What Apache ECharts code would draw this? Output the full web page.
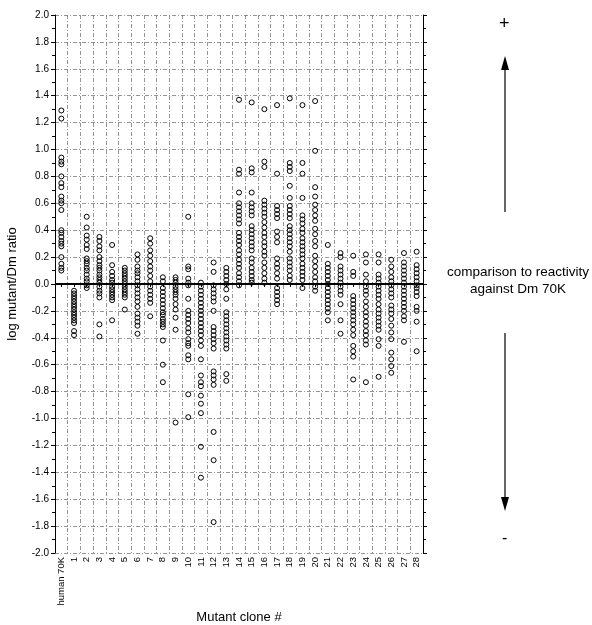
<!DOCTYPE html>
<html>
<head>
<meta charset="utf-8">
<script src="https://cdn.jsdelivr.net/npm/echarts@6/dist/echarts.min.js"></script>
<style>
html,body{margin:0;padding:0;background:#fff;}
#chart{width:592px;height:625px;}
</style>
</head>
<body>
<div id="chart"></div>
<script>
// ---- data ----
const categories = ['human 70K','1','2','3','4','5','6','7','8','9','10','11','12','13','14','15','16','17','18','19','20','21','22','23','24','25','26','27','28'];
const yTicks = [-2.0,-1.8,-1.6,-1.4,-1.2,-1.0,-0.8,-0.6,-0.4,-0.2,0.0,0.2,0.4,0.6,0.8,1.0,1.2,1.4,1.6,1.8,2.0];

const human70K = [1.29,1.23,0.94,0.91,0.89,0.80,0.75,0.72,0.65,0.62,0.60,0.55,0.40,0.38,0.35,0.32,0.30,0.28,0.20,0.15,0.12,0.10];
const clone1 = [-0.05,-0.07,-0.09,-0.11,-0.13,-0.15,-0.17,-0.19,-0.21,-0.23,-0.25,-0.27,-0.29,-0.35,-0.38];
const clone2 = [0.50,0.42,0.36,0.33,0.29,0.26,0.19,0.17,0.15,0.12,0.10,0.07,0.04,0.02,-0.01,-0.03];
const clone3 = [0.35,0.32,0.28,0.25,0.20,0.17,0.14,0.12,0.10,0.07,0.05,0.03,0.01,-0.02,-0.05,-0.07,-0.10,-0.30,-0.39];
const clone4 = [0.29,0.14,0.09,0.06,0.03,0.01,-0.02,-0.04,-0.06,-0.08,-0.10,-0.12,-0.27];
const clone5 = [0.12,0.10,0.08,0.06,0.04,0.02,0.00,-0.02,-0.04,-0.06,-0.08,-0.10,-0.19];
const clone6 = [0.22,0.18,0.13,0.10,0.08,0.05,0.02,-0.01,-0.04,-0.07,-0.10,-0.13,-0.17,-0.22,-0.25,-0.28,-0.31,-0.37];
const clone7 = [0.34,0.30,0.25,0.21,0.17,0.13,0.10,0.06,0.02,-0.02,-0.05,-0.08,-0.11,-0.14,-0.24];
const clone8 = [0.05,0.02,-0.03,-0.06,-0.09,-0.12,-0.15,-0.18,-0.21,-0.23,-0.26,-0.28,-0.30,-0.32,-0.42,-0.60,-0.73];
const clone9 = [0.05,0.03,0.01,-0.02,-0.04,-0.06,-0.08,-0.11,-0.15,-0.19,-0.25,-0.34,-1.03];
const clone10 = [0.50,0.13,0.11,0.04,0.01,-0.01,-0.11,-0.20,-0.23,-0.26,-0.29,-0.33,-0.36,-0.41,-0.44,-0.46,-0.53,-0.56,-0.82,-0.99];
const clone11 = [0.01,-0.02,-0.05,-0.08,-0.11,-0.14,-0.17,-0.20,-0.23,-0.26,-0.29,-0.32,-0.35,-0.38,-0.42,-0.46,-0.56,-0.68,-0.73,-0.76,-0.83,-0.89,-0.96,-1.21,-1.44];
const clone12 = [0.16,0.09,-0.01,-0.04,-0.07,-0.10,-0.13,-0.20,-0.32,-0.35,-0.38,-0.41,-0.44,-0.48,-0.65,-0.68,-0.71,-0.75,-1.10,-1.31,-1.77];
const clone13 = [0.12,0.09,0.06,0.03,0.00,-0.04,-0.11,-0.21,-0.24,-0.27,-0.30,-0.33,-0.36,-0.39,-0.42,-0.45,-0.48,-0.67,-0.72];
const clone14 = [1.37,0.85,0.82,0.68,0.60,0.57,0.54,0.51,0.48,0.45,0.38,0.35,0.32,0.29,0.25,0.22,0.18,0.15,0.12,0.08,0.05,0.02,-0.01];
const clone15 = [1.35,0.86,0.83,0.68,0.60,0.57,0.54,0.51,0.43,0.40,0.37,0.34,0.31,0.28,0.25,0.19,0.16,0.12,0.09,0.06,0.03,0.01];
const clone16 = [1.30,0.91,0.87,0.62,0.59,0.56,0.53,0.50,0.46,0.42,0.38,0.35,0.31,0.28,0.24,0.21,0.16,0.12,0.08,0.04,0.01];
const clone17 = [1.33,0.82,0.58,0.55,0.52,0.49,0.39,0.35,0.31,0.19,0.15,0.12,0.08,0.04,-0.03,-0.06,-0.09,-0.12,-0.15];
const clone18 = [1.38,0.90,0.87,0.84,0.73,0.64,0.58,0.55,0.52,0.49,0.43,0.40,0.37,0.34,0.31,0.28,0.24,0.19,0.16,0.13,0.10,0.06,0.03];
const clone19 = [1.33,0.90,0.82,0.64,0.51,0.48,0.45,0.41,0.38,0.34,0.31,0.28,0.25,0.22,0.19,0.15,0.12,0.09,0.06,0.03,-0.03];
const clone20 = [1.36,0.99,0.72,0.65,0.59,0.55,0.51,0.47,0.41,0.37,0.32,0.28,0.21,0.17,0.13,0.09,0.05,0.02,-0.02,-0.05];
const clone21 = [0.29,0.15,0.12,0.09,0.06,0.03,0.00,-0.03,-0.06,-0.09,-0.12,-0.15,-0.18,-0.21,-0.27];
const clone22 = [0.23,0.20,0.13,0.10,0.07,0.04,0.01,-0.02,-0.05,-0.08,-0.15,-0.27,-0.37];
const clone23 = [0.21,0.09,0.06,-0.09,-0.12,-0.15,-0.18,-0.21,-0.24,-0.27,-0.30,-0.34,-0.38,-0.46,-0.50,-0.54,-0.71];
const clone24 = [0.22,0.16,0.07,0.02,-0.02,-0.05,-0.08,-0.13,-0.17,-0.21,-0.24,-0.28,-0.31,-0.35,-0.38,-0.42,-0.45,-0.73];
const clone25 = [0.22,0.16,0.07,0.04,0.01,-0.02,-0.05,-0.08,-0.11,-0.15,-0.19,-0.22,-0.25,-0.28,-0.31,-0.34,-0.41,-0.46,-0.69];
const clone26 = [0.18,0.13,0.09,0.05,0.02,-0.01,-0.04,-0.07,-0.10,-0.16,-0.19,-0.22,-0.26,-0.31,-0.36,-0.41,-0.51,-0.56,-0.61,-0.66];
const clone27 = [0.23,0.16,0.13,0.10,0.07,0.04,0.01,-0.02,-0.05,-0.08,-0.11,-0.14,-0.17,-0.20,-0.24,-0.27,-0.43];
const clone28 = [0.24,0.14,0.11,0.08,0.05,0.02,-0.01,-0.03,-0.06,-0.09,-0.17,-0.20,-0.28,-0.50];

const groups = [human70K,clone1,clone2,clone3,clone4,clone5,clone6,clone7,clone8,clone9,clone10,
  clone11,clone12,clone13,clone14,clone15,clone16,clone17,clone18,clone19,clone20,
  clone21,clone22,clone23,clone24,clone25,clone26,clone27,clone28];

const points = [];
groups.forEach((vals, i) => vals.forEach(v => points.push([i, v])));

const FONT = '"Liberation Sans", Arial, Helvetica, sans-serif';
const gridDash = { color: '#7a7a7a', width: 0.8, type: [4, 2, 1, 2] };

const chart = echarts.init(document.getElementById('chart'), null, { renderer: 'canvas' });

const ARROW_X = 505;
chart.setOption({
  animation: false,
  backgroundColor: '#fff',
  grid: { left: 55, right: 169, top: 15, bottom: 72, containLabel: false, outerBoundsMode: 'none' },
  xAxis: [{
    type: 'category',
    data: categories,
    boundaryGap: true,
    position: 'bottom',
    name: 'Mutant clone #',
    nameLocation: 'middle',
    nameGap: 58,
    nameMoveOverlap: false,
    nameTextStyle: { fontFamily: FONT, fontSize: 13, color: '#000' },
    axisLine: { show: true, lineStyle: { color: '#000', width: 1 } },
    axisTick: { show: true, alignWithLabel: true, length: 3, lineStyle: { color: '#000' } },
    axisLabel: { rotate: 90, interval: 0, fontFamily: FONT, fontSize: 9.5, color: '#000', margin: 4 },
    splitLine: { show: true, interval: 0, lineStyle: gridDash }
  }, {
    type: 'category',
    data: categories,
    position: 'top',
    axisLine: { show: true, lineStyle: { color: '#000', width: 1 } },
    axisTick: { show: false },
    axisLabel: { show: false },
    splitLine: { show: false }
  }],
  yAxis: [{
    type: 'value',
    min: -2, max: 2, interval: 0.2,
    position: 'left',
    name: 'log mutant/Dm ratio',
    nameLocation: 'middle',
    nameGap: 36,
    nameMoveOverlap: false,
    nameRotate: 90,
    nameTextStyle: { fontFamily: FONT, fontSize: 13, color: '#000' },
    axisLine: { show: true, lineStyle: { color: '#000', width: 1 } },
    axisTick: { show: true, length: 4, lineStyle: { color: '#000' } },
    minorTick: { show: true, splitNumber: 2, length: 3, lineStyle: { color: '#000' } },
    axisLabel: {
      fontFamily: FONT, fontSize: 10, color: '#000', margin: 6,
      formatter: v => {
        const t = yTicks.find(x => Math.abs(x - v) < 1e-6);
        return (t === undefined ? v : t).toFixed(1);
      }
    },
    splitLine: { show: true, lineStyle: gridDash }
  }, {
    type: 'value',
    min: -2, max: 2, interval: 0.2,
    position: 'right',
    axisLine: { show: true, lineStyle: { color: '#000', width: 1 } },
    axisTick: { show: true, length: 4, lineStyle: { color: '#000' } },
    minorTick: { show: true, splitNumber: 2, length: 3, lineStyle: { color: '#000' } },
    axisLabel: { show: false },
    splitLine: { show: false }
  }],
  series: [{
    type: 'scatter',
    xAxisIndex: 0,
    yAxisIndex: 0,
    data: points,
    symbol: 'circle',
    symbolSize: 5,
    itemStyle: { color: 'rgba(0,0,0,0)', borderColor: '#000', borderWidth: 1, opacity: 1 },
    markLine: {
      silent: true,
      symbol: ['none', 'none'],
      label: { show: false },
      lineStyle: { color: '#000', width: 2, type: 'solid' },
      data: [{ yAxis: 0 }]
    },
    z: 3
  }],
  graphic: [
    { type: 'text', left: ARROW_X - 6, top: 15,
      style: { text: '+', font: '18px ' + FONT, fill: '#000' } },
    { type: 'line', shape: { x1: ARROW_X, y1: 212, x2: ARROW_X, y2: 66 }, style: { stroke: '#000', lineWidth: 1.2 } },
    { type: 'polygon', shape: { points: [[ARROW_X, 56], [ARROW_X - 4, 70], [ARROW_X + 4, 70]] }, style: { fill: '#000' } },
    { type: 'text', x: 518, y: 281,
      style: { text: 'comparison to reactivity\nagainst Dm 70K', font: '13.5px ' + FONT, fill: '#000',
               align: 'center', verticalAlign: 'middle', lineHeight: 17 } },
    { type: 'line', shape: { x1: ARROW_X, y1: 333, x2: ARROW_X, y2: 500 }, style: { stroke: '#000', lineWidth: 1.2 } },
    { type: 'polygon', shape: { points: [[ARROW_X, 511], [ARROW_X - 4, 497], [ARROW_X + 4, 497]] }, style: { fill: '#000' } },
    { type: 'text', left: ARROW_X - 3, top: 531,
      style: { text: '-', font: '16px ' + FONT, fill: '#000' } }
  ]
});
</script>
</body>
</html>
